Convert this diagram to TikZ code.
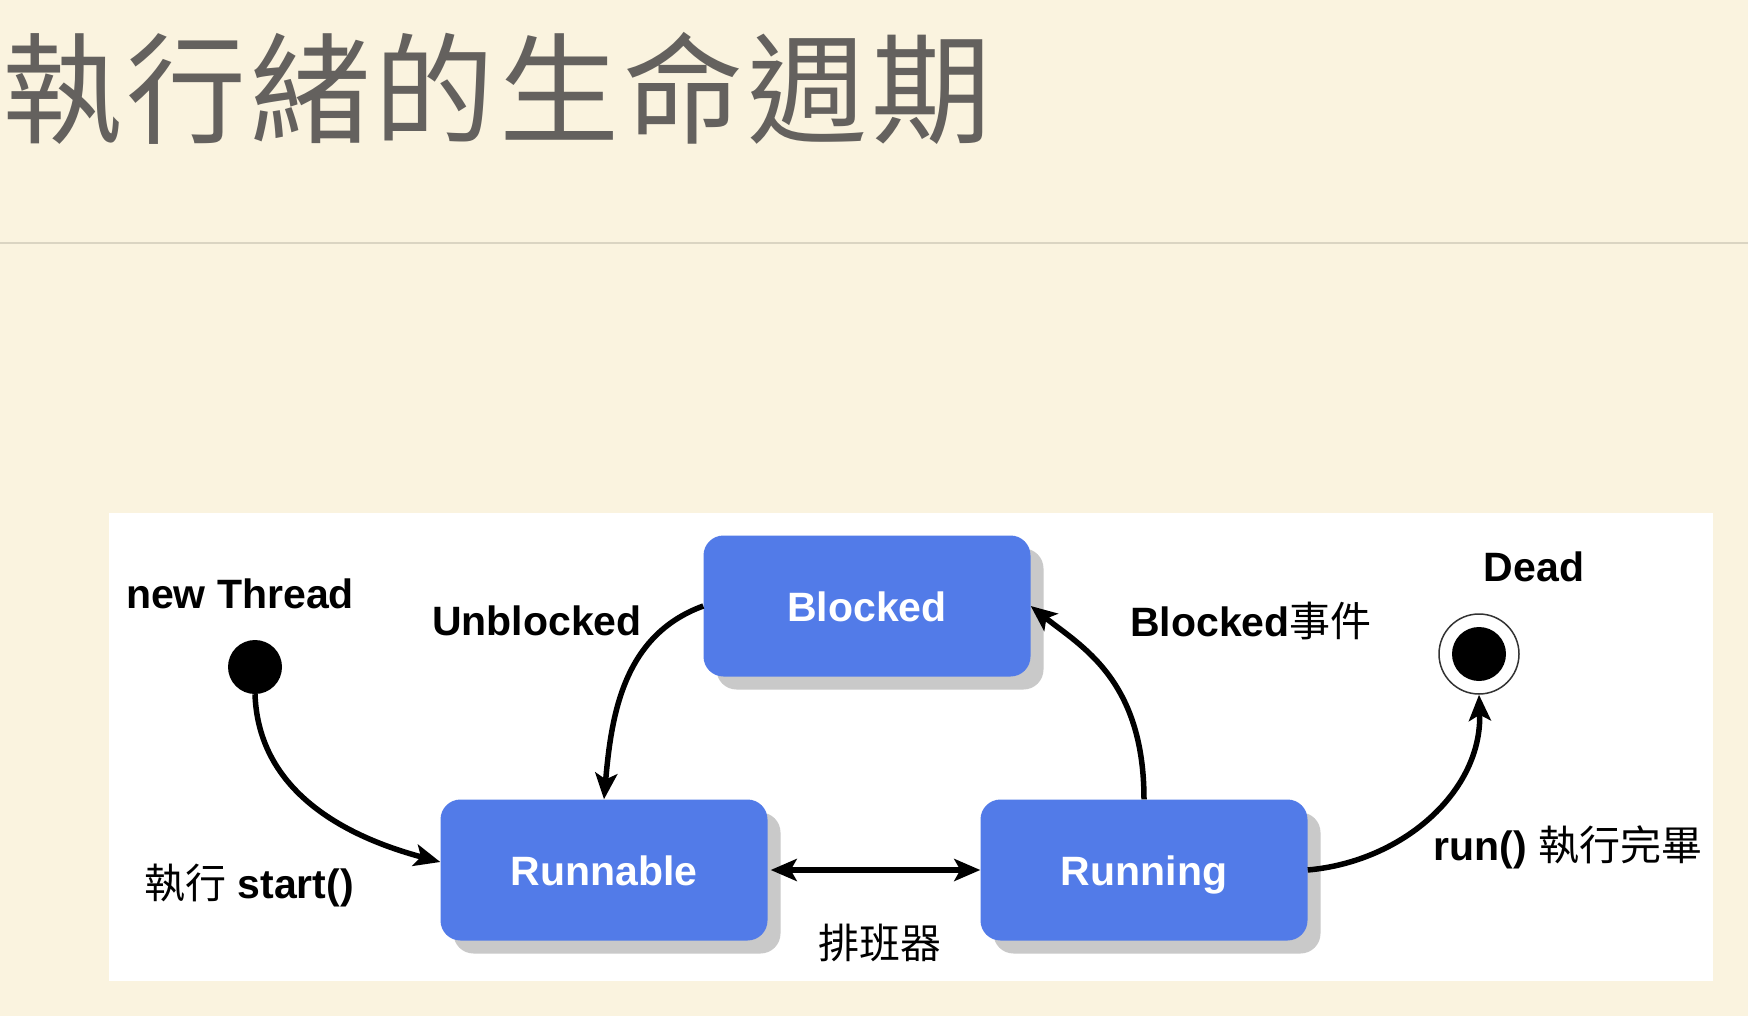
\documentclass[tikz,border=0pt]{standalone}
\usepackage{fontspec}
\setmainfont{Liberation Sans}
\newfontfamily\cjk{Noto Sans CJK TC}
\newfontfamily\cjktitle[LetterSpace=3.5]{Noto Sans CJK TC}
\usetikzlibrary{arrows.meta,shadows}
\definecolor{bg}{HTML}{FAF3DF}
\definecolor{rulecol}{HTML}{DAD4C2}
\definecolor{titlecol}{HTML}{64615E}
\definecolor{boxblue}{HTML}{527BE8}
\definecolor{shadowgray}{HTML}{C9C9C9}
\tikzset{
  statebox/.style={rounded corners=20pt, fill=boxblue, minimum width=327pt, minimum height=141pt,
    text=white, inner sep=0pt, text height=30pt, text depth=0pt, font=\fontsize{41}{48}\selectfont\bfseries,
    drop shadow={shadow xshift=13pt, shadow yshift=-13pt, fill=shadowgray, opacity=1}},
  lbl/.style={inner sep=0pt, font=\fontsize{41}{48}\selectfont},
  conn/.style={line width=5.5pt, -{Stealth[length=26pt,width=22pt,inset=6pt]}},
  biconn/.style={line width=5.5pt, {Stealth[length=26pt,width=22pt,inset=6pt]}-{Stealth[length=26pt,width=22pt,inset=6pt]}},
}
\begin{document}
\begin{tikzpicture}[x=1pt,y=-1pt]
\useasboundingbox (0,0) rectangle (1748,1016);
\fill[bg] (0,0) rectangle (1748,1016);
\node[anchor=west, inner sep=0pt, text=titlecol, font=\fontsize{120}{130}\selectfont\cjktitle] (title) at (2,89) {執行緒的生命週期};
\draw[rulecol, line width=1.5pt] (0,243) -- (1748,243);
\fill[white] (109,513) rectangle (1713,981);

\node[statebox] (blocked) at (867,606) {Blocked};
\node[statebox] (runnable) at (604,870) {Runnable};
\node[statebox] (running) at (1144,870) {Running};

\node[circle, fill=black, minimum size=54pt, inner sep=0pt] (start) at (255,667) {};
\node[circle, draw=black!80, line width=1.5pt, fill=white, minimum size=80pt, inner sep=0pt] (endo) at (1479,654) {};
\node[circle, fill=black, minimum size=54pt, inner sep=0pt] (endi) at (endo) {};

\node[lbl, font=\fontsize{41}{48}\selectfont\bfseries] (newthread) at (240,594) {new Thread};
\node[lbl, font=\fontsize{41}{48}\selectfont\bfseries] (unblocked) at (537,621) {Unblocked};
\node[lbl] (blockedev) at (1251,621) {\textbf{Blocked}{\cjk 事件}};
\node[lbl, font=\fontsize{41}{48}\selectfont\bfseries] (dead) at (1534,567) {Dead};
\node[lbl] (startlbl) at (249,886) {{\cjk 執行} \textbf{start()}};
\node[lbl] (sched) at (880,943) {\cjk 排班器};
\node[lbl] (runlbl) at (1568,847) {\textbf{run()} {\cjk 執行完畢}};

\draw[conn] (start.south) to[out=-88,in=165] ([yshift=8pt]runnable.west);
\draw[conn] (blocked.west) to[out=200,in=85] (runnable.north);
\draw[conn] (running.north) .. controls +(0,-120) and +(50,40) .. (blocked.east);
\draw[conn] (running.east) to[out=5,in=-88] (endo.south);
\draw[biconn] ([xshift=3pt]runnable.east) -- (running.west);
\end{tikzpicture}
\end{document}
